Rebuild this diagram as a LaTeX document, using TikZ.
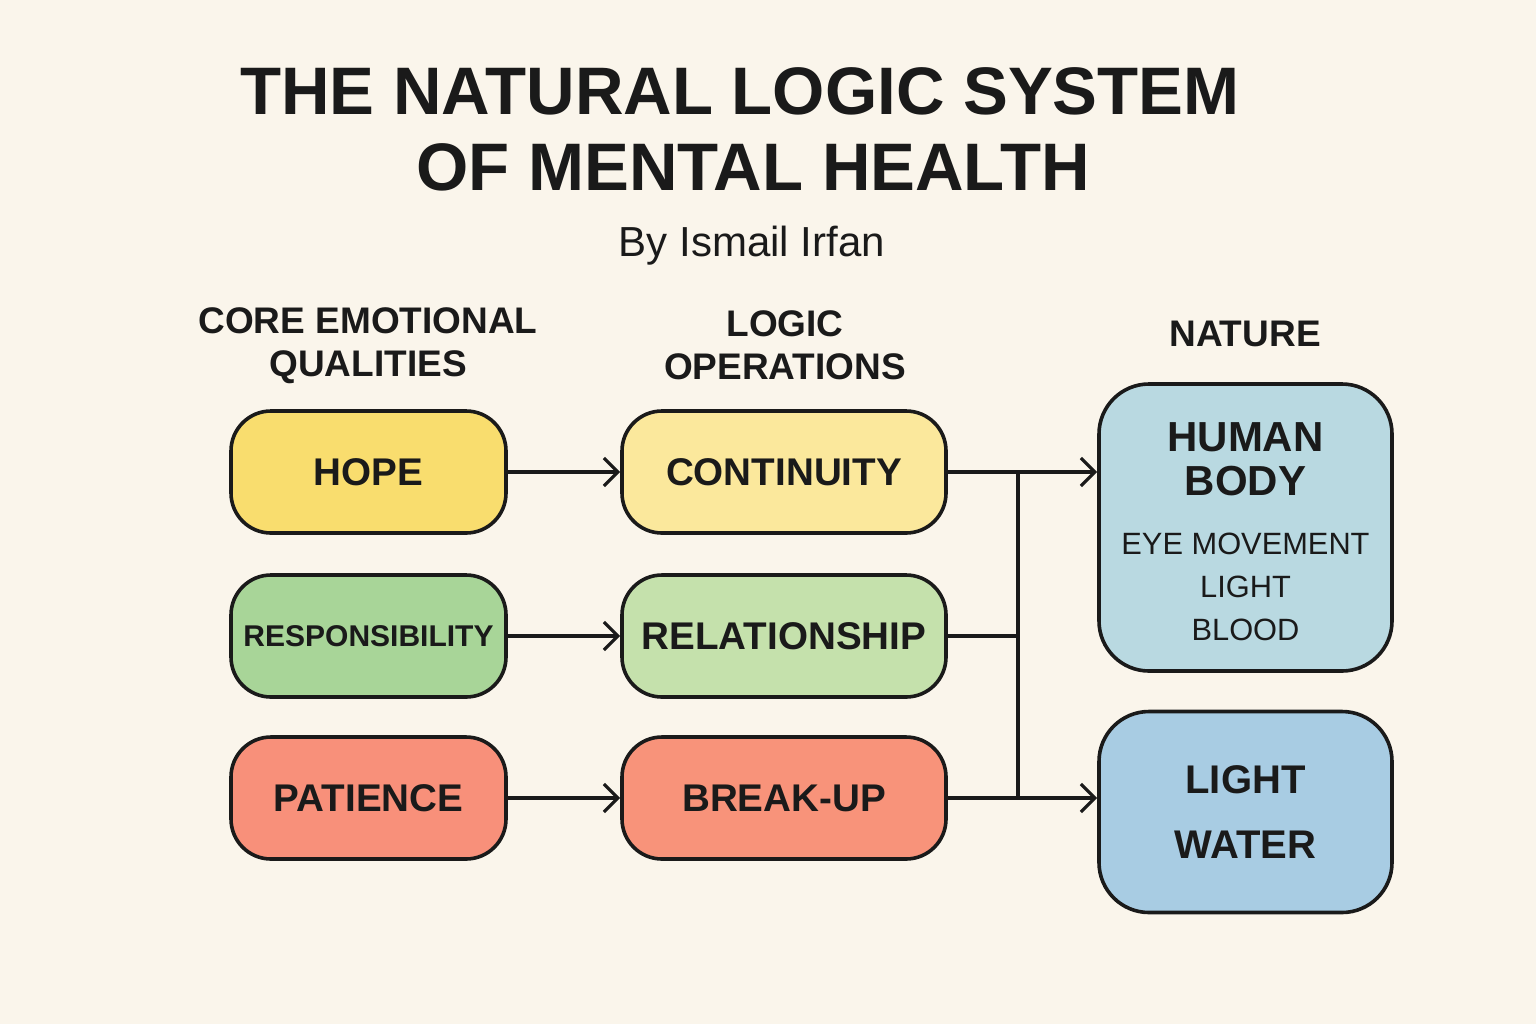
\documentclass[tikz,border=0pt]{standalone}
\usepackage{fontspec}
\setmainfont{Liberation Sans}
\usetikzlibrary{arrows.meta}
\definecolor{bg}{HTML}{FAF5EB}
\definecolor{ink}{HTML}{1A1A1A}
\definecolor{hope}{HTML}{F9DD6E}
\definecolor{cont}{HTML}{FBE89C}
\definecolor{resp}{HTML}{A8D598}
\definecolor{rel}{HTML}{C5E1AC}
\definecolor{pat}{HTML}{F8907A}
\definecolor{brk}{HTML}{F8937A}
\definecolor{body}{HTML}{B9D9E1}
\definecolor{water}{HTML}{A8CCE3}
\tikzset{
  pill/.style={draw=ink, line width=1.8pt, rounded corners=20pt, minimum height=61pt, inner xsep=2pt, align=center, font=\bfseries\fontsize{19.3}{22}\selectfont, text=ink},
  leftbox/.style={pill, minimum width=137.5pt},
  midbox/.style={pill, minimum width=162pt},
  natbox/.style={draw=ink, line width=1.8pt, rounded corners=25pt, minimum width=146.5pt, align=center, text=ink},
  head/.style={font=\bfseries\fontsize{18.5}{21.5}\selectfont, align=center, text=ink},
  conn/.style={draw=ink, line width=1.6pt},
  arr/.style={conn, -{Straight Barb[length=7pt,width=14pt,line width=1.6pt]}}
}
\begin{document}
\begin{tikzpicture}[x=0.5pt,y=-0.5pt]
\fill[bg] (0,0) rectangle (1536,1024);
\useasboundingbox (0,0) rectangle (1536,1024);
\node[font=\bfseries\fontsize{33.6}{40}\selectfont, text=ink] (t1) at (740,91) {THE NATURAL LOGIC SYSTEM};
\node[font=\bfseries\fontsize{33.6}{40}\selectfont, text=ink] (t2) at (753,167) {OF MENTAL HEALTH};
\node[font=\fontsize{21}{25}\selectfont, text=ink] (by) at (752,246) {By Ismail Irfan};
\node[head] (h1) at (368,346) {CORE EMOTIONAL\\QUALITIES};
\node[head] (h2) at (785,345) {LOGIC\\OPERATIONS};
\node[head] (h3) at (1245,334) {NATURE};
\node[leftbox, fill=hope] (hope) at (368.5,472) {HOPE};
\node[leftbox, fill=resp, font=\bfseries\fontsize{15}{18}\selectfont] (resp) at (368.5,636) {RESPONSIBILITY};
\node[leftbox, fill=pat] (pat) at (368.5,798) {PATIENCE};
\node[midbox, fill=cont] (cont) at (784,472) {CONTINUITY};
\node[midbox, fill=rel] (rel) at (784,636) {RELATIONSHIP};
\node[midbox, fill=brk] (brk) at (784,798) {BREAK-UP};
\node[natbox, fill=body, minimum height=143.5pt] (body) at (1245.5,527.5) {};
\node[font=\bfseries\fontsize{21}{22}\selectfont, text=ink, align=center] (bodyt) at (1245.5,459) {HUMAN\\BODY};
\node[font=\fontsize{15.4}{21.5}\selectfont, text=ink, align=center] (bodyl) at (1245.5,587) {EYE MOVEMENT\\LIGHT\\BLOOD};
\node[natbox, fill=water, minimum height=100.5pt, font=\bfseries\fontsize{20}{32.5}\selectfont] (water) at (1245.5,812) {LIGHT\\WATER};
\coordinate (j1) at (cont.east -| 1018,0);
\coordinate (j2) at (rel.east -| 1018,0);
\coordinate (j3) at (brk.east -| 1018,0);
\draw[arr] (hope) -- (cont);
\draw[arr] (resp) -- (rel);
\draw[arr] (pat) -- (brk);
\draw[arr] (cont.east) -- (body.west |- cont.east);
\draw[conn] (brk.east) -- (j3);
\draw[arr] (j3) -- (water.west |- j3);
\draw[conn] (rel.east) -- (j2);
\draw[conn] (j1) -- (j3);
\end{tikzpicture}
\end{document}
